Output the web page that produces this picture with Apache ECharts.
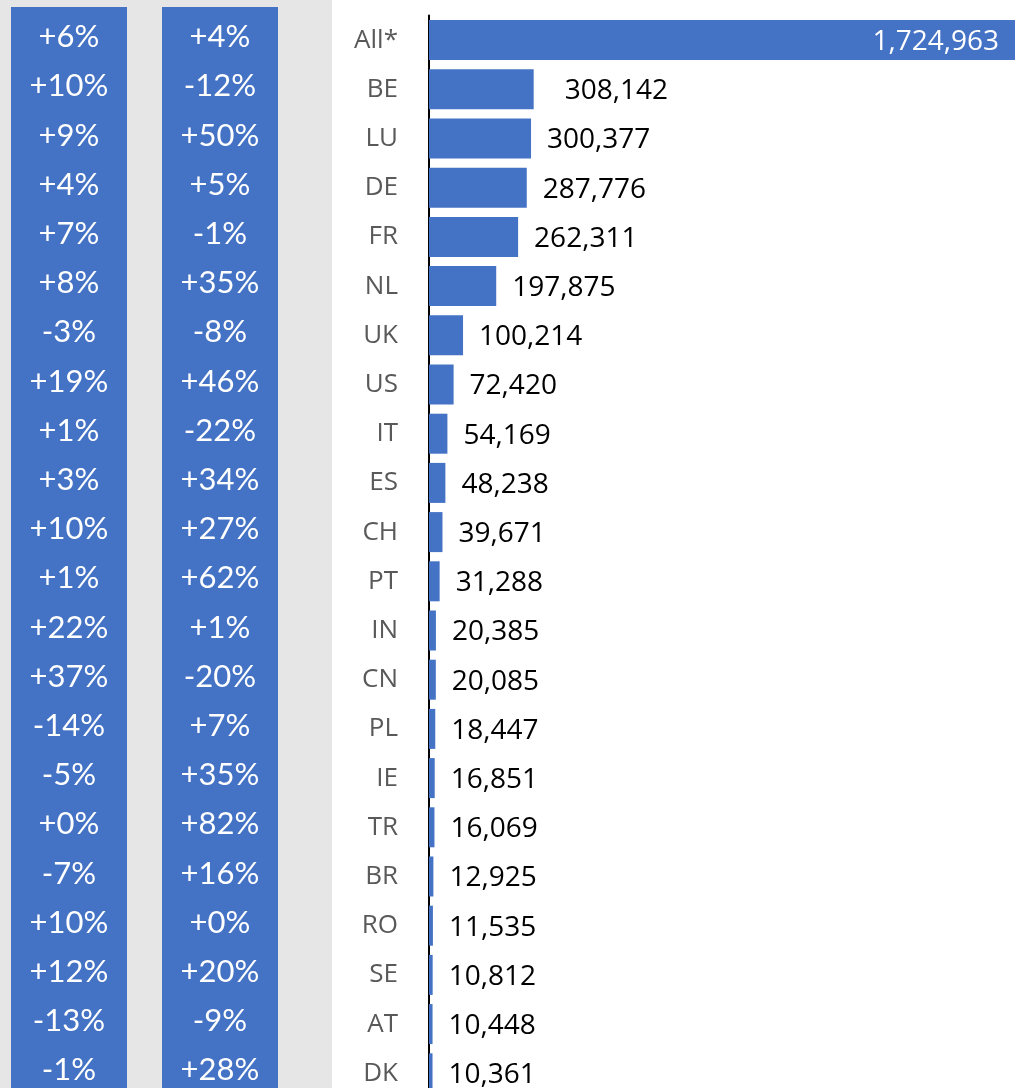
<!DOCTYPE html>
<html>
<head>
<meta charset="utf-8">
<script src="https://cdn.jsdelivr.net/npm/echarts@6/dist/echarts.min.js"></script>
<style>
  html, body { margin: 0; padding: 0; overflow: hidden; background: #fff; }
  #main { width: 1015px; height: 1100px; }
</style>
</head>
<body>
<div id="main"></div>
<script>
  // categories (top to bottom)
  var countries = ['All*', 'BE', 'LU', 'DE', 'FR', 'NL', 'UK', 'US', 'IT', 'ES', 'CH',
    'PT', 'IN', 'CN', 'PL', 'IE', 'TR', 'BR', 'RO', 'SE', 'AT', 'DK'];
  // bar values
  var visitors = [1724963, 308142, 300377, 287776, 262311, 197875, 100214, 72420, 54169,
    48238, 39671, 31288, 20385, 20085, 18447, 16851, 16069, 12925, 11535, 10812, 10448, 10361];
  // first percent column
  var changeA = ['+6%', '+10%', '+9%', '+4%', '+7%', '+8%', '-3%', '+19%', '+1%', '+3%', '+10%',
    '+1%', '+22%', '+37%', '-14%', '-5%', '+0%', '-7%', '+10%', '+12%', '-13%', '-1%'];
  // second percent column
  var changeB = ['+4%', '-12%', '+50%', '+5%', '-1%', '+35%', '-8%', '+46%', '-22%', '+34%', '+27%',
    '+62%', '+1%', '-20%', '+7%', '+35%', '+82%', '+16%', '+0%', '+20%', '-9%', '+28%'];

  var blue = '#4472C4';
  var rowTop = 15.5, rowsHeight = 1082.4;

  var myChart = echarts.init(document.getElementById('main'));

  // label for percent columns
  function pctAxis(idx, list) {
    return {
      type: 'category', gridIndex: idx, data: list, inverse: true,
      axisLine: { show: false }, axisTick: { show: false },
      axisLabel: {
        inside: true, margin: 58, align: 'center',
        color: '#fff', fontFamily: 'Lato', fontSize: 31,
        padding: [0, 0, 8, 0]
      }
    };
  }

  var barData = visitors.map(function (v, i) {
    if (i === 0) {
      return { value: v, label: { position: 'insideRight', distance: 16, color: '#fff' } };
    }
    if (countries[i] === 'BE') {
      return { value: v, label: { distance: 31 } };
    }
    return v;
  });

  var option = {
    animation: false,
    graphic: [
      { type: 'rect', z: -10, shape: { x: 0, y: 0, width: 332, height: 1100 }, style: { fill: '#E7E6E6' } },
      { type: 'rect', z: -9, shape: { x: 11, y: 7, width: 116, height: 1093 }, style: { fill: blue } },
      { type: 'rect', z: -9, shape: { x: 162, y: 7, width: 116, height: 1093 }, style: { fill: blue } }
    ],
    grid: [
      { left: 429, right: 0, top: rowTop, height: rowsHeight },
      { left: 11, width: 116, top: rowTop - 3, height: rowsHeight },
      { left: 162, width: 116, top: rowTop - 3, height: rowsHeight }
    ],
    xAxis: [
      { type: 'value', gridIndex: 0, min: 0, max: 1724963, show: false },
      { type: 'value', gridIndex: 1, show: false },
      { type: 'value', gridIndex: 2, show: false }
    ],
    yAxis: [
      {
        type: 'category', gridIndex: 0, data: countries, inverse: true,
        axisLine: { lineStyle: { color: '#000', width: 2 } },
        axisTick: { show: false },
        axisLabel: { color: '#595959', fontFamily: 'Open Sans', fontSize: 26, margin: 31 }
      },
      pctAxis(1, changeA),
      pctAxis(2, changeB)
    ],
    series: [{
      type: 'bar',
      xAxisIndex: 0, yAxisIndex: 0,
      data: barData,
      barWidth: 40,
      itemStyle: { color: blue },
      label: {
        show: true, position: 'right', distance: 16, offset: [0, 2],
        color: '#000', fontFamily: 'Open Sans', fontSize: 28,
        formatter: function (p) { return p.value.toLocaleString('en-US'); }
      }
    }]
  };

  myChart.setOption(option);
</script>
</body>
</html>
